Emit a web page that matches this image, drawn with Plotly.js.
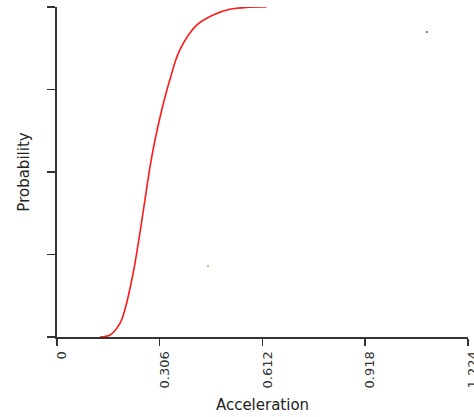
<!DOCTYPE html>
<html>
<head>
<meta charset="utf-8">
<script src="https://cdn.plot.ly/plotly-3.0.1.min.js"></script>
<style>html,body{margin:0;padding:0;background:#fff;}#chart{width:474px;height:417px;}</style>
</head>
<body>
<div id="chart"></div>
<script>
const acceleration = [0.128, 0.158, 0.188, 0.202, 0.227, 0.247, 0.262, 0.277, 0.292, 0.312, 0.336, 0.366, 0.416, 0.465, 0.515, 0.565, 0.624];
const probability  = [0.000, 0.006, 0.042, 0.082, 0.194, 0.315, 0.415, 0.515, 0.597, 0.688, 0.779, 0.870, 0.945, 0.976, 0.993, 0.999, 1.000];
const xTickVals = [0, 0.306, 0.612, 0.918, 1.224];
const xTickText = ['0', '0.306', '0.612', '0.918', '1.224'];
const yTickVals = [0, 0.25, 0.5, 0.75, 1];
const strayX = [1.102, 0.450];
const strayY = [0.924, 0.215];

const traces = [
  {x: acceleration, y: probability, type: 'scatter', mode: 'lines', line: {color: '#ff1a1a', width: 1.6, shape: 'spline'}, hoverinfo: 'skip'},
  {x: strayX, y: strayY, type: 'scatter', mode: 'markers', marker: {size: 2, color: ['#555555', '#b5b840']}, hoverinfo: 'skip'}
];
const fam = '"DejaVu Sans", sans-serif';
const layout = {
  width: 474, height: 417,
  margin: {l: 57, r: 6, t: 7, b: 80},
  paper_bgcolor: '#fff', plot_bgcolor: '#fff',
  showlegend: false,
  font: {family: fam, size: 13, color: '#222'},
  xaxis: {
    range: [0, 1.2245], tickvals: xTickVals, ticktext: xTickText, tickangle: -90,
    ticklabeloverflow: 'allow', ticklabelshift: 5,
    showgrid: false, zeroline: false, showline: true, linecolor: '#333', linewidth: 2,
    ticks: 'outside', ticklen: 7, tickwidth: 1.5, tickcolor: '#333',
    tickfont: {family: fam, size: 13, color: '#333'},
    title: {text: 'Acceleration', font: {family: fam, size: 15, color: '#222'}, standoff: 12}
  },
  yaxis: {
    range: [0, 1], tickvals: yTickVals, showticklabels: false,
    showgrid: false, zeroline: false, showline: true, linecolor: '#333', linewidth: 2,
    ticks: 'outside', ticklen: 8, tickwidth: 1.5, tickcolor: '#333',
    title: {text: 'Probability', font: {family: fam, size: 15, color: '#222'}, standoff: 14}
  }
};
Plotly.newPlot('chart', traces, layout, {staticPlot: true, displayModeBar: false});
</script>
</body>
</html>
